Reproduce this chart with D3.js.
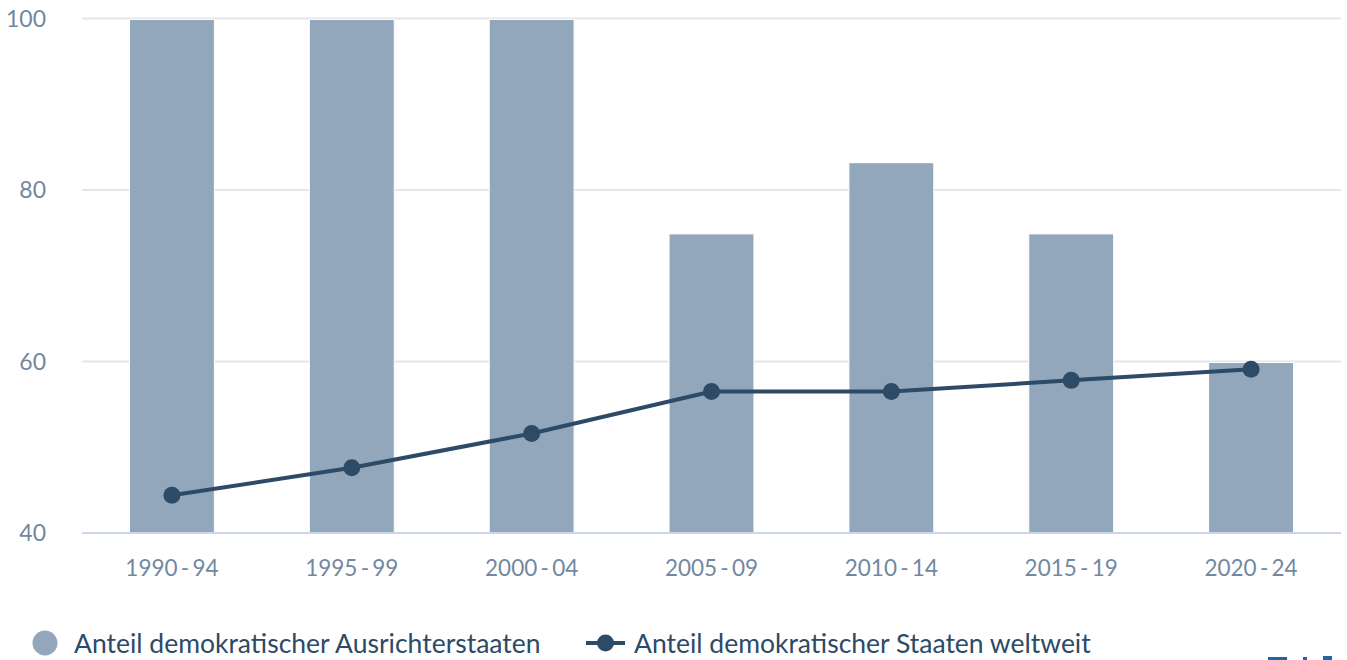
<!DOCTYPE html>
<html>
<head>
<meta charset="utf-8">
<script src="https://cdn.jsdelivr.net/npm/d3@7"></script>
<style>
  body { margin: 0; background: #fff; }
  svg { display: block; font-family: "Source Sans Pro", Lato, "Open Sans", sans-serif; }
</style>
</head>
<body>
<div id="chart"></div>
<script>
var categories = ["1990 - 94", "1995 - 99", "2000 - 04", "2005 - 09", "2010 - 14", "2015 - 19", "2020 - 24"];
var hostShare = [100, 100, 100, 75, 83.3, 75, 60];
var worldShare = [44.4, 47.6, 51.6, 56.5, 56.5, 57.8, 59.1];
var yTicks = [40, 60, 80, 100];
var seriesNames = ["Anteil demokratischer Ausrichterstaaten", "Anteil demokratischer Staaten weltweit"];

var W = 1347, H = 660;
var plotLeft = 82, plotRight = 1341, plotTop = 18.5, plotBottom = 533;

var svg = d3.select("#chart").append("svg")
    .attr("width", W)
    .attr("height", H);

// scales
var x = d3.scaleBand()
    .domain(categories)
    .range([plotLeft, plotRight])
    .padding(0);

var y = d3.scaleLinear()
    .domain([40, 100])
    .range([plotBottom, plotTop]);

var barW = x.bandwidth() * 0.472;

// gridlines
svg.append("g")
    .selectAll("line")
    .data(yTicks.filter(function (d) { return d > 40; }))
    .enter()
    .append("line")
    .attr("x1", plotLeft)
    .attr("x2", plotRight)
    .attr("y1", function (d) { return y(d); })
    .attr("y2", function (d) { return y(d); })
    .style("stroke", "#e6e6e6")
    .style("stroke-width", 2);

// y labels
svg.append("g")
    .selectAll("text")
    .data(yTicks)
    .enter()
    .append("text")
    .attr("x", 46)
    .attr("y", function (d) { return y(d); })
    .attr("dy", "0.36em")
    .attr("text-anchor", "end")
    .style("font-size", "23px")
    .style("fill", "#7288a0")
    .text(function (d) { return d; });

// bars
svg.append("g")
    .selectAll("rect")
    .data(hostShare)
    .enter()
    .append("rect")
    .attr("x", function (d, i) { return x(categories[i]) + (x.bandwidth() - barW) / 2; })
    .attr("y", function (d) { return y(d) + 1; })
    .attr("width", barW)
    .attr("height", function (d) { return plotBottom - y(d) - 1; })
    .style("fill", "#92a7bc")
    .style("stroke", "#fff")
    .style("stroke-width", 1);

// baseline
svg.append("line")
    .attr("x1", plotLeft)
    .attr("x2", plotRight)
    .attr("y1", plotBottom)
    .attr("y2", plotBottom)
    .style("stroke", "#ccd6eb")
    .style("stroke-width", 2);

// x labels
svg.append("g")
    .selectAll("text")
    .data(categories)
    .enter()
    .append("text")
    .attr("x", function (d) { return x(d) + x.bandwidth() / 2; })
    .attr("y", 576)
    .attr("text-anchor", "middle")
    .style("font-size", "22.5px")
    .style("word-spacing", "-2.5px")
    .style("fill", "#7288a0")
    .text(function (d) { return d; });

// line series
var cx = function (d, i) { return x(categories[i]) + x.bandwidth() / 2; };
var line = d3.line()
    .x(cx)
    .y(function (d) { return y(d); });

svg.append("path")
    .datum(worldShare)
    .attr("d", line)
    .style("fill", "none")
    .style("stroke", "#2d4a66")
    .style("stroke-width", 4);

svg.append("g")
    .selectAll("circle")
    .data(worldShare)
    .enter()
    .append("circle")
    .attr("cx", cx)
    .attr("cy", function (d) { return y(d); })
    .attr("r", 8.5)
    .style("fill", "#2d4a66");

// legend
var legend = svg.append("g");
legend.append("circle")
    .attr("cx", 45)
    .attr("cy", 643)
    .attr("r", 12.5)
    .style("fill", "#92a7bc");
legend.append("text")
    .attr("x", 74)
    .attr("y", 653)
    .style("font-size", "26.5px")
    .style("fill", "#2d4a66")
    .text(seriesNames[0]);

legend.append("line")
    .attr("x1", 586)
    .attr("x2", 625)
    .attr("y1", 643)
    .attr("y2", 643)
    .style("stroke", "#2d4a66")
    .style("stroke-width", 4);
legend.append("circle")
    .attr("cx", 605.5)
    .attr("cy", 643)
    .attr("r", 8.5)
    .style("fill", "#2d4a66");
legend.append("text")
    .attr("x", 634)
    .attr("y", 653)
    .style("font-size", "26.5px")
    .style("fill", "#2d4a66")
    .text(seriesNames[1]);

// logo, mostly cut off at the bottom edge
var logo = svg.append("g").style("fill", "#1f66a8");
logo.append("rect").attr("x", 1268).attr("y", 657).attr("width", 19).attr("height", 3);
logo.append("rect").attr("x", 1303).attr("y", 657).attr("width", 4).attr("height", 3);
logo.append("rect").attr("x", 1323).attr("y", 656).attr("width", 9).attr("height", 4);
</script>
</body>
</html>
